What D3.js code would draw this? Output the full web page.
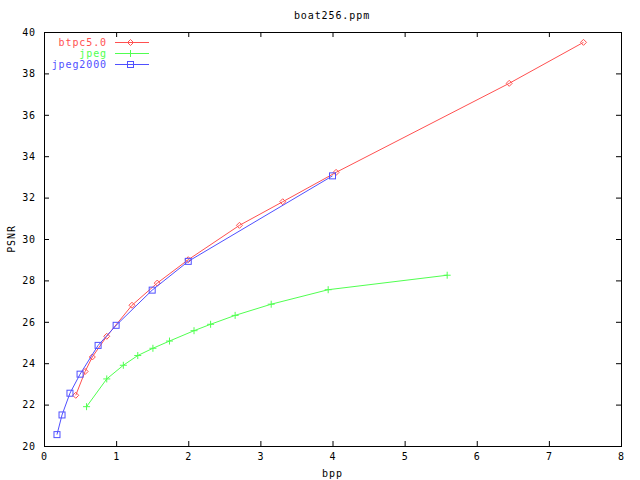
<!DOCTYPE html>
<html>
<head>
<meta charset="utf-8">
<script src="https://cdn.jsdelivr.net/npm/d3@7"></script>
<style>
  body { margin: 0; background: #fff; }
  text { font-family: "DejaVu Sans Mono", monospace; font-size: 10px; letter-spacing: 0.9px; fill: #000; }
  .axis path, .axis line { stroke: #000; }
</style>
</head>
<body>
<div id="chart"></div>
<script>
// data: [bpp, PSNR]
const btpc = [[0.44,22.45],[0.57,23.6],[0.67,24.3],[0.87,25.3],[1.22,26.8],[1.57,27.87],
  [2.0,29.0],[2.71,30.66],[3.31,31.8],[4.05,33.22],[6.45,37.52],[7.48,39.5]];
const jpeg = [[0.59,21.9],[0.87,23.24],[1.1,23.9],[1.3,24.37],[1.51,24.72],[1.74,25.07],
  [2.08,25.57],[2.31,25.88],[2.65,26.31],[3.15,26.85],[3.94,27.55],[5.59,28.25]];
const jpeg2000 = [[0.18,20.55],[0.25,21.5],[0.36,22.55],[0.5,23.47],[0.75,24.86],
  [1.0,25.83],[1.5,27.53],[2.0,28.92],[4.0,33.05]];
const xTicks = [0,1,2,3,4,5,6,7,8];
const yTicks = [20,22,24,26,28,30,32,34,36,38,40];

const series = [
  {name: 'btpc5.0', values: btpc, color: '#ff5050', mark: 'diamond'},
  {name: 'jpeg', values: jpeg, color: '#50ff50', mark: 'plus'},
  {name: 'jpeg2000', values: jpeg2000, color: '#5050ff', mark: 'square'}
];

const width = 640, height = 480;
const margin = {top: 32, right: 19, bottom: 34, left: 44};

const svg = d3.select('#chart').append('svg')
    .attr('width', width)
    .attr('height', height);

const x = d3.scaleLinear().domain([0, 8]).range([margin.left, width - margin.right]);
const y = d3.scaleLinear().domain([20, 40]).range([height - margin.bottom, margin.top]);

// axes, ticks pointing inward on all four sides
svg.append('g').attr('class', 'axis')
    .attr('transform', `translate(0,${y(20)})`)
    .call(d3.axisBottom(x).tickValues(xTicks).tickSize(-5).tickPadding(7).tickFormat(d3.format('d')))
    .call(g => g.select('.domain').remove());
svg.append('g').attr('class', 'axis')
    .attr('transform', `translate(${x(0)},0)`)
    .call(d3.axisLeft(y).tickValues(yTicks).tickSize(-5).tickPadding(8).tickFormat(d3.format('d')))
    .call(g => g.select('.domain').remove());
svg.append('g').attr('class', 'axis')
    .attr('transform', `translate(0,${y(40)})`)
    .call(d3.axisTop(x).tickValues(xTicks).tickSize(-5).tickFormat(''))
    .call(g => g.select('.domain').remove());
svg.append('g').attr('class', 'axis')
    .attr('transform', `translate(${x(8)},0)`)
    .call(d3.axisRight(y).tickValues(yTicks).tickSize(-5).tickFormat(''))
    .call(g => g.select('.domain').remove());

svg.selectAll('.axis').attr('font-size', null).attr('font-family', null);

svg.append('rect')
    .attr('x', x(0) + 0.5)
    .attr('y', y(40) + 0.5)
    .attr('width', x(8) - x(0))
    .attr('height', y(20) - y(40))
    .attr('fill', 'none')
    .attr('stroke', '#000');

// titles
svg.append('text')
    .attr('x', 332).attr('y', 19)
    .attr('text-anchor', 'middle')
    .text('boat256.ppm');
svg.append('text')
    .attr('x', (x(0) + x(8)) / 2).attr('y', 477)
    .attr('text-anchor', 'middle')
    .text('bpp');
svg.append('text')
    .attr('transform', `translate(15,${(y(20) + y(40)) / 2}) rotate(-90)`)
    .attr('text-anchor', 'middle')
    .text('PSNR');

function drawMark(g, kind, cx, cy, color) {
  if (kind === 'diamond') {
    g.append('path')
        .attr('d', `M${cx},${cy - 3}L${cx + 3},${cy}L${cx},${cy + 3}L${cx - 3},${cy}Z`)
        .attr('fill', 'none').attr('stroke', color);
  } else if (kind === 'plus') {
    g.append('path')
        .attr('d', `M${cx - 3.5},${cy}H${cx + 3.5}M${cx},${cy - 3.5}V${cy + 3.5}`)
        .attr('stroke', color);
  } else {
    g.append('rect')
        .attr('x', cx - 3).attr('y', cy - 3)
        .attr('width', 6).attr('height', 6)
        .attr('fill', 'none').attr('stroke', color);
  }
}

const line = d3.line().x(d => x(d[0])).y(d => y(d[1]));

series.forEach((s, i) => {
  const g = svg.append('g');
  g.append('path')
      .datum(s.values)
      .attr('d', line)
      .attr('fill', 'none')
      .attr('stroke', s.color)
      .attr('stroke-width', 1);
  s.values.forEach(d => drawMark(g, s.mark, x(d[0]), y(d[1]), s.color));

  // legend entry
  const ly = 42.5 + i * 11;
  svg.append('text')
      .attr('x', 107).attr('y', ly + 3.5)
      .attr('text-anchor', 'end')
      .style('fill', s.color)
      .text(s.name);
  svg.append('line')
      .attr('x1', 115).attr('x2', 149)
      .attr('y1', ly).attr('y2', ly)
      .attr('stroke', s.color);
  drawMark(svg, s.mark, 130.5, ly, s.color);
});
</script>
</body>
</html>
